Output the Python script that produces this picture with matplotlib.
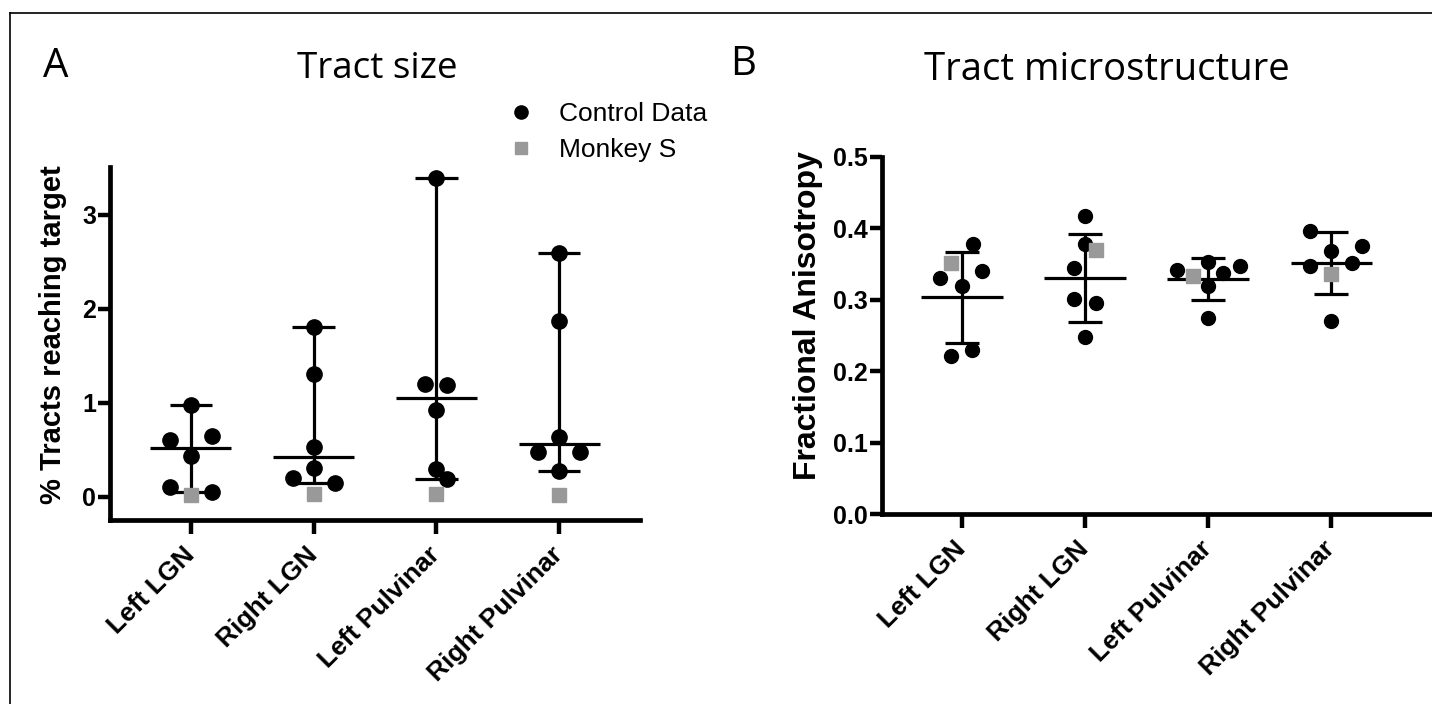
import numpy as np
import matplotlib.pyplot as plt
from matplotlib.lines import Line2D

plt.rcParams['font.family'] = ['Liberation Sans', 'DejaVu Sans']

regions = ["Left LGN", "Right LGN", "Left Pulvinar", "Right Pulvinar"]

# panel A: % tracts reaching target (control animals, monkey S)
size_control = [
    [0.98, 0.61, 0.65, 0.44, 0.11, 0.05],
    [1.81, 1.31, 0.53, 0.31, 0.20, 0.15],
    [3.39, 1.20, 1.19, 0.92, 0.30, 0.19],
    [2.59, 1.87, 0.64, 0.48, 0.48, 0.28],
]
size_monkey = [0.02, 0.03, 0.035, 0.02]

# panel B: fractional anisotropy
fa_control = [
    [0.378, 0.331, 0.341, 0.319, 0.221, 0.230],
    [0.418, 0.378, 0.344, 0.301, 0.295, 0.248],
    [0.342, 0.353, 0.338, 0.347, 0.319, 0.274],
    [0.397, 0.369, 0.375, 0.347, 0.351, 0.271],
]
fa_monkey = [0.351, 0.370, 0.334, 0.336]

# horizontal scatter of the dots (category units)
size_jitter = [
    [0, -0.17, 0.17, 0, -0.17, 0.17],
    [0, 0, 0, 0, -0.17, 0.17],
    [0, -0.09, 0.09, 0, 0, 0.09],
    [0, 0, 0, -0.17, 0.17, 0],
]
fa_jitter = [
    [0.09, -0.175, 0.166, 0, -0.09, 0.08],
    [0, 0, -0.087, -0.087, 0.087, 0],
    [-0.25, 0, 0.125, 0.256, 0, 0],
    [-0.175, 0, 0.254, -0.175, 0.166, 0],
]
fa_monkey_jitter = [-0.09, 0.087, -0.125, 0]

grey = "#999999"
lw = 2.3

fig = plt.figure(figsize=(14.32, 7.04), dpi=100)

# frame lines at top and left
fig.add_artist(Line2D([10/1432, 1], [1-13/704, 1-13/704], color="k", lw=1.2))
fig.add_artist(Line2D([10/1432, 10/1432], [0, 1-13/704], color="k", lw=1.2))


def style_axes(ax):
    for s in ["top", "right"]:
        ax.spines[s].set_visible(False)
    for s in ["left", "bottom"]:
        ax.spines[s].set_linewidth(3.4)
    ax.tick_params(axis="both", width=3.2, length=9, labelsize=18, pad=1)
    ax.tick_params(axis="x", length=10)
    for t in ax.get_yticklabels():
        t.set_fontweight("bold")
    ax.set_xticks(range(len(regions)))
    ax.set_xticklabels(regions, rotation=45, ha="right", va="center",
                       rotation_mode="anchor", fontsize=19, fontweight="bold")
    for t in ax.get_xticklabels():
        t.set_y(-0.045)


# ---- panel A
axA = fig.add_axes([110/1432, 1-520/704, 530/1432, 353/704])
for i in range(4):
    vals = np.array(size_control[i])
    med = np.median(vals)
    axA.vlines(i, vals.min(), vals.max(), color="k", lw=lw, zorder=2)
    axA.hlines([vals.min(), vals.max()], i-0.175, i+0.175, color="k", lw=lw, zorder=2)
    axA.hlines(med, i-0.33, i+0.33, color="k", lw=lw, zorder=2)
    axA.plot(i + np.array(size_jitter[i]), vals, "o", color="k", ms=11, zorder=3)
    axA.plot(i, size_monkey[i], "s", color=grey, ms=9.5, zorder=4)
axA.set_xlim(-0.66, 3.66)
axA.set_ylim(-0.245, 3.51)
axA.set_yticks([0, 1, 2, 3])
style_axes(axA)

# ---- panel B
axB = fig.add_axes([882/1432, 1-514/704, 550/1432, 357/704])
for i in range(4):
    vals = np.array(fa_control[i])
    m = vals.mean()
    sd = vals.std(ddof=1)
    axB.vlines(i, m-sd, m+sd, color="k", lw=lw, zorder=2)
    axB.hlines([m-sd, m+sd], i-0.136, i+0.136, color="k", lw=lw, zorder=2)
    axB.hlines(m, i-0.33, i+0.33, color="k", lw=lw, zorder=2)
    axB.plot(i + np.array(fa_jitter[i]), vals, "o", color="k", ms=10, zorder=3)
    axB.plot(i + fa_monkey_jitter[i], fa_monkey[i], "s", color=grey, ms=10, zorder=4)
axB.set_xlim(-0.65, 3.82)
axB.set_ylim(0, 0.5)
axB.set_yticks([0.0, 0.1, 0.2, 0.3, 0.4, 0.5])
axB.set_yticklabels(["0.0", "0.1", "0.2", "0.3", "0.4", "0.5"])
style_axes(axB)
axB.spines["left"].set_bounds(0, 0.5)

# axis labels
fig.text(53/1432, 1-335/704, "% Tracts reaching target", rotation=90,
         ha="center", va="center", fontsize=21, fontweight="bold")
fig.text(808/1432, 1-316/704, "Fractional Anisotropy", rotation=90,
         ha="center", va="center", fontsize=23, fontweight="bold")

# titles and panel letters
tfont = ["Open Sans", "DejaVu Sans"]
fig.text(43/1432, 1-77/704, "A", fontsize=29, family=tfont, va="baseline")
fig.text(730/1432, 1-75/704, "B", fontsize=29, family=tfont, va="baseline")
fig.text(377/1432, 1-78/704, "Tract size", fontsize=26.5, family=tfont,
         ha="center", va="baseline")
fig.text(1107/1432, 1-80/704, "Tract microstructure", fontsize=27.5, family=tfont,
         ha="center", va="baseline")

# legend
handles = [
    Line2D([], [], marker="o", ls="", color="k", ms=9.5),
    Line2D([], [], marker="s", ls="", color=grey, ms=9),
]
fig.legend(handles, ["Control Data", "Monkey S"], loc="upper left",
           bbox_to_anchor=(508/1432, 1-102/704), frameon=False, fontsize=19,
           handlelength=1.0, handletextpad=0.95, labelspacing=0.45,
           borderpad=0, borderaxespad=0)

fig.savefig("out.png", dpi=100)
